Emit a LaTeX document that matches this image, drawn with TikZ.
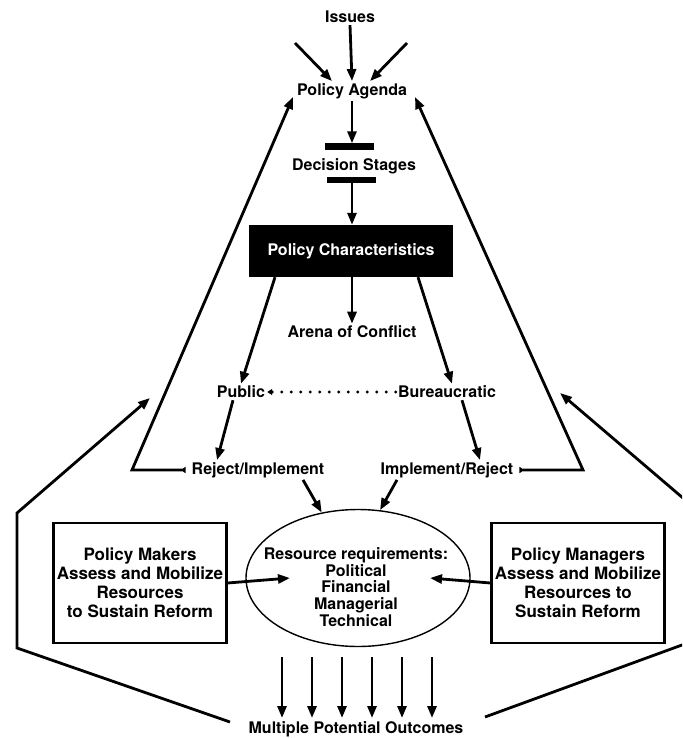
\documentclass[tikz,border=0pt]{standalone}
\usepackage{fontspec}
\setmainfont{TeX Gyre Heros}
\usepackage{tikz}
\usetikzlibrary{arrows.meta,shapes.geometric}
\tikzstyle{lbl} = [font=\bfseries\fontsize{16}{17}\selectfont, inner sep=2pt]
\tikzstyle{bar} = [fill=black, inner sep=0pt, minimum width=49pt, minimum height=7pt]
\tikzstyle{blackbox} = [fill=black, text=white, font=\bfseries\fontsize{16}{17}\selectfont,
    minimum width=204pt, minimum height=52pt]
\tikzstyle{sidebox} = [draw, line width=2.2pt, align=center, font=\bfseries\fontsize{17}{19}\selectfont,
    minimum width=170pt, minimum height=120pt]
\tikzstyle{arr} = [line width=2.8pt, -{Triangle[length=12pt,width=9pt]}]
\tikzstyle{fb} = [line width=2.8pt, shorten <=4pt,
    {Triangle[reversed,length=5pt,width=6pt]}-{Triangle[length=12pt,width=9pt]}]

\begin{document}
\begin{tikzpicture}[x=1pt,y=-1pt]
\useasboundingbox (0,0) rectangle (682,738);
\clip (0,0) rectangle (682,738);
\node [lbl] (issues) at (350,17) {Issues};
\node [lbl] (agenda) at (352,91) {Policy Agenda};
\node [bar] (bar1) at (349,147) {};
\node [lbl] (stages) at (354,166) {Decision Stages};
\node [bar, minimum height=6pt] (bar2) at (351,180) {};
\node [blackbox] (charac) at (351,251) {Policy Characteristics};
\node [lbl] (arena) at (352,332) {Arena of Conflict};
\node [lbl] (public) at (241,392) {Public};
\node [lbl] (bureau) at (447,392) {Bureaucratic};
\node [lbl] (reject) at (258,470) {Reject/Implement};
\node [lbl] (implement) at (447,470) {Implement/Reject};
\node [draw, ellipse, line width=1.4pt, minimum width=224pt, minimum height=137pt] (res) at (358,578) {};
\node [lbl, align=center, font=\bfseries\fontsize{16}{16.8}\selectfont] (reqs) at (356,587)
    {Resource requirements:\\Political\\Financial\\Managerial\\Technical};
\node [sidebox] (makers) at (140,583) {Policy Makers\\Assess and Mobilize\\Resources\\to Sustain Reform};
\node [sidebox] (managers) at (578,583) {Policy Managers\\Assess and Mobilize\\Resources to\\Sustain Reform};
\node [lbl] (outcomes) at (356,729) {Multiple Potential Outcomes};
% issues into the agenda
\coordinate (il) at (295,43);
\coordinate (ir) at (407,43);
\draw [arr] (il) -- ([xshift=-20pt]agenda.north);
\draw [arr] (issues.south) -- (agenda.north);
\draw [arr] (ir) -- ([xshift=18pt]agenda.north);
% down the middle
\draw [arr] (agenda.south) -- (agenda.south |- bar1.north);
\draw [arr] (bar2.south -| agenda.south) -- (charac.north -| agenda.south);
\draw [arr] (charac.south -| agenda.south) -- (arena.north -| agenda.south);
\draw [arr] ([xshift=-76pt]charac.south) -- (public.north);
\draw [arr] ([xshift=67pt]charac.south) -- ([xshift=5pt]bureau.north);
\draw [line width=3.2pt, line cap=round, dash pattern=on 0pt off 9.5pt,
    -{Triangle[length=5pt,width=6pt]}] (bureau.west) -- (public.east);
\draw [arr] ([xshift=-8pt]public.south) -- ([xshift=-41pt]reject.north);
\draw [arr] ([xshift=15pt]bureau.south) -- ([xshift=33pt]implement.north);
\draw [arr] ([xshift=45pt]reject.south) -- (res.119);
\draw [arr] ([xshift=-50pt]implement.south) -- (res.72);
% feedback to the agenda
\draw [fb] (reject.west) -- (132,470) -- (293,97);
\draw [fb] (implement.east) -- (583,470) -- (415,97);
% resources
\coordinate (lin) at (290,578);
\coordinate (rin) at (430,578);
\draw [arr] (makers.east) -- (lin);
\draw [arr] (managers.west) -- (rin);
\foreach \x in {282,312,342,372,402,432}
  \draw [arr] (\x,657) -- (\x,718);
% outer loops
\draw [arr] (230,722) -- (17,648) -- (17,513) -- (150,398);
\draw [arr] (485,717) -- (697,639.5) -- (697,510) -- (560,393);
\end{tikzpicture}
\end{document}
